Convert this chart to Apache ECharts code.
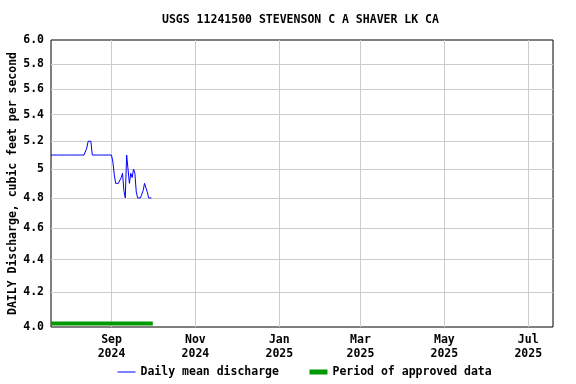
<!DOCTYPE html>
<html>
<head>
<meta charset="utf-8">
<script src="https://cdn.jsdelivr.net/npm/echarts@6/dist/echarts.min.js"></script>
<style>html,body{margin:0;padding:0;background:#fff}#c{width:576px;height:384px}</style>
</head>
<body>
<div id="c"></div>
<script>
// ---- data ----
const titleText = 'USGS 11241500 STEVENSON C A SHAVER LK CA';
const yAxisName = 'DAILY Discharge, cubic feet per second';
const seriesNames = ['Daily mean discharge', 'Period of approved data'];
const firstDate = '2024-07-19';
const dailyValues = [
  5.1,5.1,5.1,5.1,5.1,5.1,5.1,5.1,5.1,5.1,5.1,5.1,5.1,          // Jul 19-31
  5.1,5.1,5.1,5.1,5.1,5.1,5.1,5.1,5.1,5.1,5.1,5.1,5.1,          // Aug 1-13
  5.15,5.2,5.2,5.2,                                               // Aug 14-17
  5.1,5.1,5.1,5.1,5.1,5.1,5.1,5.1,5.1,5.1,5.1,5.1,5.1,5.1,       // Aug 18-31
  5.1,5.05,4.96,4.9,4.9,4.9,4.9,4.94,4.97,4.85,                   // Sep 1-10
  4.8,5.1,5.1,4.9,4.97,4.94,5.0,4.97,4.84,4.8,                    // Sep 11-20
  4.8,4.8,4.8,4.85,4.9,4.9,4.84,4.8,4.8,4.8                       // Sep 21-30
];
const approvedPeriod = ['2024-07-19', '2024-10-01'];
const approvedLevel = 4.02;
const xRange = ['2024-07-19', '2025-07-19'];
const xTickDates = ['2024-09-01','2024-11-01','2025-01-01','2025-03-01','2025-05-01','2025-07-01'];
const xTickLabels = ['Sep\n2024','Nov\n2024','Jan\n2025','Mar\n2025','May\n2025','Jul\n2025'];
const yTickValues = [4.0,4.2,4.4,4.6,4.8,5.0,5.2,5.4,5.6,5.8,6.0];
const yTickLabels = ['4.0','4.2','4.4','4.6','4.8','5','5.2','5.4','5.6','5.8','6.0'];
const yRange = [4, 6];

// ---- build ----
const DAY = 86400000;
const ts = d => new Date(d + 'T00:00:00Z').getTime();
const t0 = ts(firstDate);
const dischargeData = dailyValues.map((v, i) => [t0 + i * DAY, v]);
const approvedData = approvedPeriod.map(d => [ts(d), approvedLevel]);
const xTickTimes = xTickDates.map(ts);
// interior values only for grid lines (the frame is drawn by the grid border)
const yGridValues = yTickValues.filter(v => v > yRange[0] && v < yRange[1]);

const FONT = 'DejaVu Sans Mono';
const txt = {fontFamily: FONT, fontWeight: 'bold', fontSize: 11.5, color: '#000'};

const chart = echarts.init(document.getElementById('c'), null, {renderer: 'canvas'});
chart.setOption({
  animation: false,
  backgroundColor: '#fff',
  title: {
    text: titleText, left: 162, top: 14, padding: 0,
    textStyle: Object.assign({}, txt)
  },
  grid: {left: 51, right: 23, top: 40, bottom: 57, show: true, borderColor: '#000', borderWidth: 1,
         backgroundColor: '#fff', containLabel: false, outerBoundsMode: 'none'},
  legend: {
    left: 117, top: 366, padding: 0, itemWidth: 18, itemHeight: 14, itemGap: 28,
    itemStyle: {opacity: 0},
    textStyle: Object.assign({}, txt),
    data: [
      {name: seriesNames[0], lineStyle: {width: 1, color: '#0000ff'}},
      {name: seriesNames[1], lineStyle: {width: 5, color: '#009900'}}
    ]
  },
  xAxis: {
    type: 'value',
    min: ts(xRange[0]), max: ts(xRange[1]),
    axisLine: {show: false},
    axisTick: {show: false, customValues: xTickTimes},
    axisLabel: Object.assign({
      customValues: xTickTimes, margin: 6, lineHeight: 14, align: 'center',
      formatter: function (v) {
        let best = 0, bd = Infinity;
        xTickTimes.forEach((t, i) => { const d = Math.abs(t - v); if (d < bd) { bd = d; best = i; } });
        return xTickLabels[best];
      }
    }, txt),
    splitLine: {show: true, lineStyle: {color: '#cccccc', width: 1}}
  },
  yAxis: {
    type: 'log', logBase: 10, min: yRange[0], max: yRange[1],
    name: yAxisName, nameLocation: 'middle', nameGap: 32, nameRotate: 90,
    nameMoveOverlap: false,
    nameTextStyle: Object.assign({}, txt),
    axisLine: {show: false},
    axisTick: {show: false, customValues: yGridValues},
    axisLabel: Object.assign({
      customValues: yTickValues, margin: 7,
      formatter: function (v) {
        let best = 0, bd = Infinity;
        yTickValues.forEach((t, i) => { const d = Math.abs(t - v); if (d < bd) { bd = d; best = i; } });
        return yTickLabels[best];
      }
    }, txt),
    splitLine: {show: true, lineStyle: {color: '#cccccc', width: 1}}
  },
  series: [
    {
      name: seriesNames[1], type: 'line', data: approvedData,
      symbol: 'none', showSymbol: false, clip: false,
      lineStyle: {color: '#009900', width: 4}, itemStyle: {color: '#009900'}, z: 3
    },
    {
      name: seriesNames[0], type: 'line', data: dischargeData,
      symbol: 'none', showSymbol: false,
      lineStyle: {color: '#0000ff', width: 1}, itemStyle: {color: '#0000ff'}, z: 4
    }
  ]
});
</script>
</body>
</html>
